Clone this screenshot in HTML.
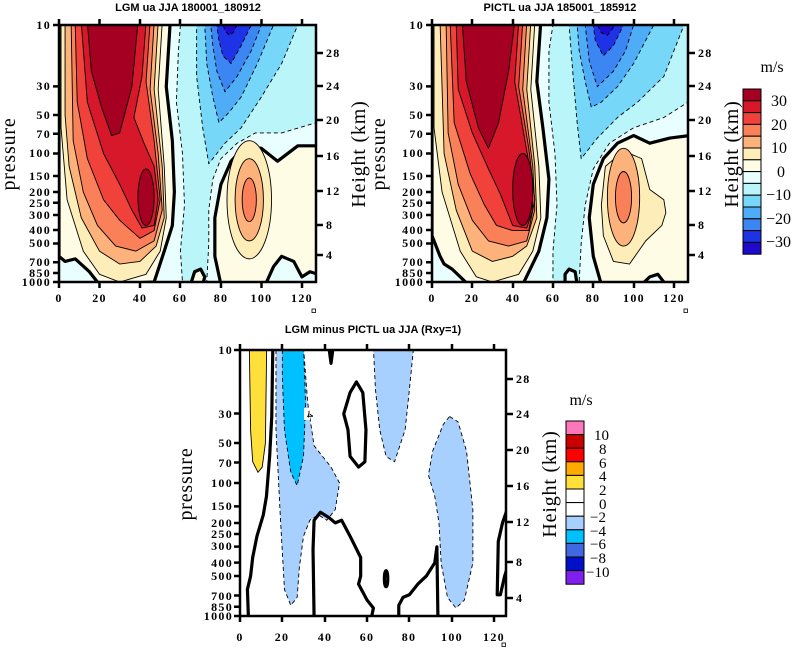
<!DOCTYPE html>
<html><head><meta charset="utf-8"><style>
html,body{margin:0;padding:0;background:#fff}
svg{display:block}
.t{font-family:"Liberation Serif",serif;font-weight:bold;font-size:12px;letter-spacing:1.3px;fill:#000}
.ti{font-family:"Liberation Sans",sans-serif;font-weight:bold;font-size:11px;fill:#000}
.ax{font-family:"Liberation Serif",serif;font-size:20px;letter-spacing:0.8px;fill:#000}
.cb{font-family:"Liberation Serif",serif;font-size:16px;fill:#000}
.ln{stroke:#000;stroke-width:0.9;vector-effect:non-scaling-stroke;stroke-linejoin:round}
.ds{stroke-dasharray:4 3}
.tk{stroke:#000;stroke-width:3.2;vector-effect:non-scaling-stroke;stroke-linejoin:round}
.nf{fill:none}
</style></head><body>
<svg width="796" height="649" viewBox="0 0 796 649" xmlns="http://www.w3.org/2000/svg">
<defs>
<clipPath id="c1"><rect x="0" y="0" width="127" height="100"/></clipPath>
<clipPath id="c3"><rect x="0" y="0" width="125.6" height="100"/></clipPath>
</defs>

<!-- ===== Top-left panel ===== -->
<text class="ti" x="188" y="11" text-anchor="middle">LGM ua JJA 180001_180912</text>
<g transform="translate(59,25) scale(2.024,2.57)" clip-path="url(#c1)">
<rect x="0" y="0" width="127" height="100" fill="#e9fefe"/>
<polygon fill="#b9f5f9" class="ln ds" points="60,0 127,0 127,38 110,42 97,42 88,46 80,52 76,60 74,72 74,85 73,100 61,100 60,88 62,70 61,50 58,30 59,10"/>
<polygon fill="#77d7f9" class="ln ds" points="68,0 118,0 110,15 100,28 90,40 82,46 74,54 71,40 68,20"/>
<polygon fill="#4fadf8" class="ln ds" points="72,0 106,0 98,15 90,28 84,34 79,38 76,28 73,15"/>
<polygon fill="#3b86f2" class="ln ds" points="75,0 100,0 95,10 88,20 82,26 78,18 76,8"/>
<polygon fill="#1f33e6" class="ln ds" points="78,0 95,0 90,8 85,15 81,12 79,6"/>
<polygon fill="#1c0bcc" class="ln ds" points="81,0 88,0 86,3 84,4 82,2"/>
<polygon fill="#fffce6" class="tk" points="0,-2 55,-2 53,24 56,45 57,65 56,78 52,88 47,100 20,101 15,96 8,91 3,92 0,90"/>
<polygon fill="#fdedb8" class="ln" points="1,-1 51,-1 49,25 52,55 53,75 50,88 43,97 30,100 20,97 12,88 4,68 1,40"/>
<polygon fill="#fdb27b" class="ln" points="3,-1 49,-1 47,25 51,55 52,75 48,86 40,92 30,93 20,88 11,75 5,55 3,35"/>
<polygon fill="#f98058" class="ln" points="6,-1 47,-1 45,25 49,50 51,72 47,84 38,88 28,86 19,78 12,65 7,45"/>
<polygon fill="#f0413a" class="ln" points="8,-1 45,-1 43,22 47,45 50,68 47,80 40,83 30,76 22,68 14,52 9,30"/>
<polygon fill="#d7182a" class="ln" points="11,-1 43,-1 41,20 37,36 42,46 47,55 49,68 47,78 41,79 36,72 30,62 22,50 14,30"/>
<polygon fill="#a50021" class="ln" points="14,-1 39,-1 36,24 30,42 26,43 21,32 16,18"/>
<ellipse fill="#a50021" class="ln" cx="43" cy="67" rx="4" ry="11"/>
<polygon fill="#fffce6" class="tk" points="80,101 77,90 77,75 80,62 85,53 92,47 100,48 108,53 118,47 128,47 128,97 124,96 120,98 116,92 110,90 106,94 102,101"/>
<ellipse fill="#fdedb8" class="ln" cx="94" cy="68" rx="11" ry="23"/>
<ellipse fill="#fdb27b" class="ln" cx="94" cy="68" rx="7" ry="16"/>
<ellipse fill="#f98058" class="ln" cx="94" cy="68" rx="3.5" ry="8.5"/>
<polygon fill="#fffce6" class="tk" points="65,101 67,96 70,95 72,98 71,101"/>
</g>
<rect x="59" y="25" width="257" height="257" fill="none" stroke="#000" stroke-width="2.5"/>
<g stroke="#000" stroke-width="2.5">
<path d="M59,282v6M99.5,282v6M140,282v6M180,282v6M221,282v6M261.5,282v6M302,282v6"/>
<path d="M59,25v-6M99.5,25v-6M140,25v-6M180,25v-6M221,25v-6M261.5,25v-6M302,25v-6"/>
<path d="M59,25h-6M59,86.4h-6M59,115h-6M59,133.7h-6M59,153.5h-6M59,176h-6M59,192h-6M59,202.7h-6M59,215h-6M59,230h-6M59,243.5h-6M59,262.3h-6M59,273h-6M59,282h-6"/>
<path d="M316,53h7M316,86h7M316,120h7M316,156h7M316,191h7M316,225h7M316,255h7"/>
</g>
<g class="t" text-anchor="end">
<text x="51" y="29">10</text><text x="51" y="90">30</text><text x="51" y="119">50</text><text x="51" y="138">70</text><text x="51" y="157">100</text><text x="51" y="180">150</text><text x="51" y="196">200</text><text x="51" y="207">250</text><text x="51" y="219">300</text><text x="51" y="234">400</text><text x="51" y="247">500</text><text x="51" y="266">700</text><text x="51" y="277">850</text><text x="51" y="286">1000</text>
</g>
<g class="t" text-anchor="middle">
<text x="59" y="302">0</text><text x="99.5" y="302">20</text><text x="140" y="302">40</text><text x="180" y="302">60</text><text x="221" y="302">80</text><text x="261.5" y="302">100</text><text x="302" y="302">120</text>
</g>
<g class="t"><text x="326" y="57">28</text><text x="326" y="90">24</text><text x="326" y="124">20</text><text x="326" y="160">16</text><text x="326" y="195">12</text><text x="326" y="229">8</text><text x="326" y="259">4</text></g>
<rect x="312" y="309" width="3.5" height="3.5" fill="none" stroke="#000" stroke-width="0.8"/>
<text class="ax" transform="translate(15,154) rotate(-90)" text-anchor="middle">pressure</text>
<text class="ax" transform="translate(365,154) rotate(-90)" text-anchor="middle">Height (km)</text>

<!-- ===== Top-right panel ===== -->
<text class="ti" x="560" y="11" text-anchor="middle">PICTL ua JJA 185001_185912</text>
<g transform="translate(432,25) scale(2.016,2.57)" clip-path="url(#c1)">
<rect x="0" y="0" width="127" height="100" fill="#e9fefe"/>
<polygon fill="#b9f5f9" class="ln ds" points="60,0 127,0 127,30 115,36 100,40 88,46 80,56 76,70 74,85 73,100 60,100 60,88 62,70 61,50 58,30 58,10"/>
<polygon fill="#77d7f9" class="ln ds" points="68,0 125,0 115,20 102,30 92,36 82,44 74,52 72,38 70,20"/>
<polygon fill="#4fadf8" class="ln ds" points="72,0 110,0 100,15 92,24 84,30 79,32 76,22 73,10"/>
<polygon fill="#3b86f2" class="ln ds" points="76,0 100,0 96,10 90,18 82,24 78,14"/>
<polygon fill="#1f33e6" class="ln ds" points="80,0 95,0 90,8 85,12 81,6"/>
<polygon fill="#1c0bcc" class="ln ds" points="82,0 91,0 87,4 84,3"/>
<polygon fill="#fffce6" class="tk" points="0,-2 54,-2 52,22 55,40 58,60 57,75 53,88 45,101 18,101 14,98 10,95 6,93 4,90 0,82"/>
<polygon fill="#fdedb8" class="ln" points="1,-1 51,-1 49,25 53,55 54,75 50,88 43,97 30,100 22,98 14,88 5,65 1,40"/>
<polygon fill="#fdb27b" class="ln" points="4,-1 49,-1 47,25 51,55 52,75 47,86 40,90 30,92 20,88 12,72 6,50"/>
<polygon fill="#f98058" class="ln" points="7,-1 47,-1 45,25 50,55 51,72 47,84 38,86 28,84 20,76 13,62 8,42"/>
<polygon fill="#f0413a" class="ln" points="9,-1 45,-1 43,24 48,48 51,68 48,80 40,80 32,78 26,70 19,58 11,38"/>
<polygon fill="#d7182a" class="ln" points="12,-1 43,-1 41,22 45,40 49,58 50,72 47,79 40,78 34,66 28,56 20,42 13,25"/>
<polygon fill="#a50021" class="ln" points="15,-1 41,-1 38,18 33,38 28,48 23,40 17,22"/>
<ellipse fill="#a50021" class="ln" cx="45" cy="64" rx="5" ry="14"/>
<polygon fill="#fffce6" class="tk" points="84,101 80,90 78,75 80,62 85,52 92,46 100,43 108,46 118,44 128,43 128,101"/>
<polygon fill="#fdedb8" class="ln" points="84,70 86,55 95,49 104,52 108,64 115,68 116,73 114,78 106,84 98,93 90,92 85,82"/>
<ellipse fill="#fdb27b" class="ln" cx="95" cy="67" rx="8" ry="19"/>
<ellipse fill="#f98058" class="ln" cx="95" cy="67" rx="4" ry="10"/>
<polygon fill="#e9fefe" class="tk" points="66,101 66,97 68,95 71,96 72,101"/>
<polygon fill="#e9fefe" class="tk" points="104,101 108,98 112,97 114,99 116,101"/>
</g>
<rect x="432" y="25" width="256" height="257" fill="none" stroke="#000" stroke-width="2.5"/>
<g stroke="#000" stroke-width="2.5">
<path d="M432,282v6M472,282v6M513,282v6M553,282v6M593,282v6M634,282v6M674,282v6"/>
<path d="M432,25v-6M472,25v-6M513,25v-6M553,25v-6M593,25v-6M634,25v-6M674,25v-6"/>
<path d="M432,25h-6M432,86.4h-6M432,115h-6M432,133.7h-6M432,153.5h-6M432,176h-6M432,192h-6M432,202.7h-6M432,215h-6M432,230h-6M432,243.5h-6M432,262.3h-6M432,273h-6M432,282h-6"/>
<path d="M688,53h7M688,86h7M688,120h7M688,156h7M688,191h7M688,225h7M688,255h7"/>
</g>
<g class="t" text-anchor="end">
<text x="424" y="29">10</text><text x="424" y="90">30</text><text x="424" y="119">50</text><text x="424" y="138">70</text><text x="424" y="157">100</text><text x="424" y="180">150</text><text x="424" y="196">200</text><text x="424" y="207">250</text><text x="424" y="219">300</text><text x="424" y="234">400</text><text x="424" y="247">500</text><text x="424" y="266">700</text><text x="424" y="277">850</text><text x="424" y="286">1000</text>
</g>
<g class="t" text-anchor="middle">
<text x="432" y="302">0</text><text x="472" y="302">20</text><text x="513" y="302">40</text><text x="553" y="302">60</text><text x="593" y="302">80</text><text x="634" y="302">100</text><text x="674" y="302">120</text>
</g>
<g class="t"><text x="698" y="57">28</text><text x="698" y="90">24</text><text x="698" y="124">20</text><text x="698" y="160">16</text><text x="698" y="195">12</text><text x="698" y="229">8</text><text x="698" y="259">4</text></g>
<rect x="684" y="309" width="3.5" height="3.5" fill="none" stroke="#000" stroke-width="0.8"/>
<text class="ax" transform="translate(385,154) rotate(-90)" text-anchor="middle">pressure</text>
<text class="ax" transform="translate(738,154) rotate(-90)" text-anchor="middle">Height (km)</text>

<!-- top colorbar -->
<text class="cb" x="772" y="72" text-anchor="middle">m/s</text>
<g stroke="#000" stroke-width="1">
<rect x="743" y="89" width="18" height="11.8" fill="#a50021"/>
<rect x="743" y="100.8" width="18" height="11.8" fill="#d7182a"/>
<rect x="743" y="112.6" width="18" height="11.8" fill="#f0413a"/>
<rect x="743" y="124.4" width="18" height="11.8" fill="#f98058"/>
<rect x="743" y="136.2" width="18" height="11.8" fill="#fdb27b"/>
<rect x="743" y="148" width="18" height="11.8" fill="#fdedb8"/>
<rect x="743" y="159.8" width="18" height="11.8" fill="#fffce6"/>
<rect x="743" y="171.6" width="18" height="11.8" fill="#e9fefe"/>
<rect x="743" y="183.4" width="18" height="11.8" fill="#b9f5f9"/>
<rect x="743" y="195.2" width="18" height="11.8" fill="#77d7f9"/>
<rect x="743" y="207" width="18" height="11.8" fill="#4fadf8"/>
<rect x="743" y="218.8" width="18" height="11.8" fill="#3b86f2"/>
<rect x="743" y="230.6" width="18" height="11.8" fill="#1f33e6"/>
<rect x="743" y="242.4" width="18" height="11.8" fill="#1c0bcc"/>
</g>
<g class="cb">
<text x="771" y="106">30</text><text x="771" y="130">20</text><text x="771" y="153">10</text><text x="777" y="177">0</text>
<text x="766" y="200">−10</text><text x="766" y="224">−20</text><text x="766" y="247">−30</text>
</g>

<!-- ===== Bottom panel ===== -->
<text class="ti" x="373" y="333" text-anchor="middle">LGM minus PICTL ua JJA (Rxy=1)</text>
<g transform="translate(240,350) scale(2.117,2.66)" clip-path="url(#c3)">
<rect x="0" y="0" width="126" height="100" fill="#fff"/>
<polygon fill="#a8d0ff" class="ln ds" points="17,-1 30,-1 32,20 35,36 43,44 47,50 45,60 41,64 37,62 33,64 30,70 28,82 27,93 24,96 21,90 19,62 17,30"/>
<polygon fill="#00c0ff" class="ln ds" points="20,-1 30,-1 31,20 30,40 27,51 24,46 21,30 20,10"/>
<polygon fill="#ffe03a" class="ln" points="4.4,-1 12.6,-1 12,35 10.5,44 8.5,46 6,42 5,30"/>
<polygon fill="#a8d0ff" class="ln ds" points="63,-1 82,-1 80,15 78,30 73,42 69,40 66,30 64,15"/>
<polygon fill="#a8d0ff" class="ln ds" points="99,25 103,27 107,38 110,60 110,80 106,94 102,97 98,93 95,80 94,65 92,55 89,47 91,38 96,28"/>
<polyline class="tk nf" points="15.5,-1 15,25 14,40 12.5,55 11,62 8,70 6,78 5,85 3.5,90 4,101"/>
<polygon class="tk nf" points="55,12 58,16 59.5,30 59,42 56,44 52,40 51,30 49,24 52,16"/>
<polyline class="tk nf" points="35,101 34.5,75 35,64 38,61 42,63 45,65 48,64 52,70 57,78 57,85 56,88 60,94 63,97 62,101"/>
<polyline class="tk nf" points="75,101 75,96 77,93 80,92 84,88 88,85 92,80 93,74 93.5,101"/>
<ellipse class="tk nf" cx="69" cy="86" rx="0.8" ry="3"/>
<polyline class="tk nf" points="127,58 124,65 122,72 121.5,92 123,92 125,85 127,80"/>
<polyline class="tk nf" points="42,-1 43,5 44,-1"/>
</g>
<rect x="240" y="350" width="266" height="266" fill="none" stroke="#000" stroke-width="2.5"/>
<g stroke="#000" stroke-width="2.5">
<path d="M240,616v6M282,616v6M325,616v6M367,616v6M409,616v6M452,616v6M494,616v6"/>
<path d="M240,350v-6M282,350v-6M325,350v-6M367,350v-6M409,350v-6M452,350v-6M494,350v-6"/>
<path d="M240,350h-6M240,413.5h-6M240,443h-6M240,462.5h-6M240,483h-6M240,506.4h-6M240,523h-6M240,534h-6M240,546.6h-6M240,562.6h-6M240,576h-6M240,595.5h-6M240,606.7h-6M240,616h-6"/>
<path d="M506,379h7M506,414h7M506,450h7M506,486h7M506,522h7M506,562h7M506,598h7"/>
</g>
<g class="t" text-anchor="end">
<text x="233" y="354">10</text><text x="233" y="418">30</text><text x="233" y="447">50</text><text x="233" y="467">70</text><text x="233" y="487">100</text><text x="233" y="510">150</text><text x="233" y="527">200</text><text x="233" y="538">250</text><text x="233" y="550">300</text><text x="233" y="567">400</text><text x="233" y="580">500</text><text x="233" y="600">700</text><text x="233" y="611">850</text><text x="233" y="620">1000</text>
</g>
<g class="t" text-anchor="middle">
<text x="240" y="641">0</text><text x="282" y="641">20</text><text x="325" y="641">40</text><text x="367" y="641">60</text><text x="409" y="641">80</text><text x="452" y="641">100</text><text x="494" y="641">120</text>
</g>
<g class="t"><text x="516" y="383">28</text><text x="516" y="418">24</text><text x="516" y="454">20</text><text x="516" y="490">16</text><text x="516" y="526">12</text><text x="516" y="566">8</text><text x="516" y="602">4</text></g>
<rect x="502" y="643" width="3.5" height="3.5" fill="none" stroke="#000" stroke-width="0.8"/>
<text class="ax" transform="translate(192,484) rotate(-90)" text-anchor="middle">pressure</text>
<text class="ax" transform="translate(556,484) rotate(-90)" text-anchor="middle">Height (km)</text>
<rect x="304" y="408" width="6" height="12" fill="#fff"/>
<text x="307" y="414" font-family="Liberation Sans,sans-serif" font-size="8" font-weight="bold" text-anchor="middle" transform="rotate(90,307,414)">-4</text>

<!-- bottom colorbar -->
<text class="cb" x="581" y="405" text-anchor="middle">m/s</text>
<g stroke="#000" stroke-width="1">
<rect x="566" y="421" width="18" height="13.6" fill="#ff77bb"/>
<rect x="566" y="434.6" width="18" height="13.6" fill="#c80000"/>
<rect x="566" y="448.2" width="18" height="13.6" fill="#ff0000"/>
<rect x="566" y="461.8" width="18" height="13.6" fill="#ffaa00"/>
<rect x="566" y="475.4" width="18" height="13.6" fill="#ffe03a"/>
<rect x="566" y="489" width="18" height="13.6" fill="#ffffff"/>
<rect x="566" y="502.6" width="18" height="13.6" fill="#ffffff"/>
<rect x="566" y="516.2" width="18" height="13.6" fill="#a8d0ff"/>
<rect x="566" y="529.8" width="18" height="13.6" fill="#00c0ff"/>
<rect x="566" y="543.4" width="18" height="13.6" fill="#4068e0"/>
<rect x="566" y="557" width="18" height="13.6" fill="#0010c8"/>
<rect x="566" y="570.6" width="18" height="13.6" fill="#8020f0"/>
</g>
<g class="cb">
<text x="594" y="440" font-size="15">10</text><text x="599" y="454" font-size="15">8</text><text x="599" y="468" font-size="15">6</text><text x="599" y="481" font-size="15">4</text><text x="599" y="495" font-size="15">2</text><text x="599" y="509" font-size="15">0</text>
<text x="590" y="522" font-size="15">−2</text><text x="590" y="536" font-size="15">−4</text><text x="590" y="549" font-size="15">−6</text><text x="590" y="563" font-size="15">−8</text><text x="586" y="577" font-size="15">−10</text>
</g>
</svg>
</body></html>
